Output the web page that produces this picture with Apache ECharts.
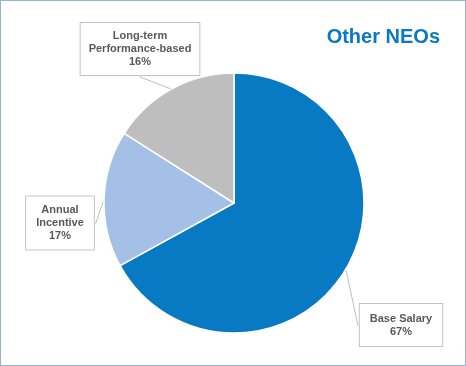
<!DOCTYPE html>
<html><head><meta charset="utf-8">
<script src="https://cdn.jsdelivr.net/npm/echarts@6/dist/echarts.min.js"></script>
<style>
html,body{margin:0;padding:0;background:#fff;}
#c{position:absolute;left:0;top:0;width:464px;height:364px;border:1px solid #95B3D7;}
</style></head>
<body><div id="c"></div>
<script>
const categories = ['Base Salary', 'Annual\nIncentive', 'Long-term\nPerformance-based'];
const values = [67, 17, 16];
const colors = ['#0879C3', '#A5C0E6', '#BFBEBE'];
const labelCenters = [[400, 324], [59, 222], [139, 48]];
const paddings = [[8, 10, 8, 10], [7, 10, 7, 10], [7, 8, 6, 8]];

const chart = echarts.init(document.getElementById('c'), null, {renderer: 'canvas'});
chart.setOption({
  animation: false,
  title: {
    text: 'Other NEOs', right: 20, top: 21,
    textStyle: {fontFamily: 'Liberation Sans, Arial, sans-serif', fontSize: 20, fontWeight: 'bold', color: '#0A78C3'}
  },
  series: [{
    type: 'pie',
    center: [233, 202],
    radius: [0, 130],
    startAngle: 90,
    clockwise: true,
    itemStyle: {borderColor: '#fff', borderWidth: 1.5},
    label: {
      show: true,
      position: 'outside',
      overflow: 'none',
      formatter: p => p.name + '\n' + p.value + '%',
      fontFamily: 'Liberation Sans, Arial, sans-serif',
      fontSize: 11, fontWeight: 'bold', color: '#595959', lineHeight: 13,
      align: 'center',
      backgroundColor: '#fff', borderColor: '#C4C4C4', borderWidth: 1
    },
    labelLine: {show: true, length: 1, length2: 1, smooth: false, lineStyle: {color: '#BFBFBF', width: 1}},
    labelLayout: function (params) {
      const c = labelCenters[params.dataIndex];
      return {x: c[0], y: c[1], align: 'center', verticalAlign: 'middle'};
    },
    data: categories.map((n, i) => ({
      name: n, value: values[i],
      itemStyle: {color: colors[i]},
      label: {padding: paddings[i]}
    }))
  }]
});
</script></body></html>
